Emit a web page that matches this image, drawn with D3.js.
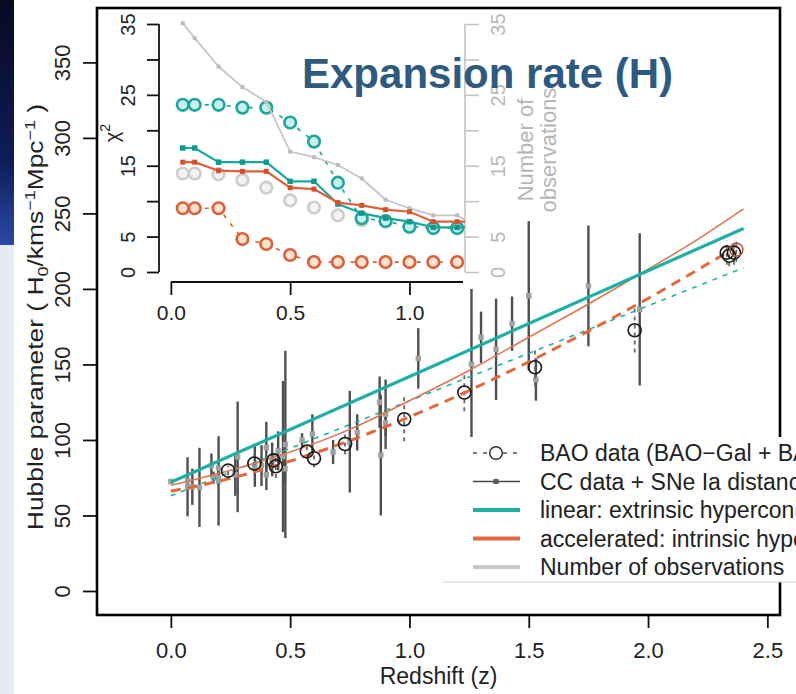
<!DOCTYPE html>
<html>
<head>
<meta charset="utf-8">
<script src="https://cdn.jsdelivr.net/npm/d3@7"></script>
<style>
  body { margin: 0; background: #ffffff; }
  svg { display: block; }
  text { font-family: "Liberation Sans", Arial, Helvetica, sans-serif; }
</style>
</head>
<body>
<svg id="chart" width="796" height="694"></svg>
<script>
// ---- Cosmic-chronometer + SNe Ia H(z) points: redshift, H, 1-sigma ----
const ccZ   = [0, 0.07, 0.09, 0.12, 0.17, 0.179, 0.199, 0.2, 0.27, 0.28, 0.352, 0.38, 0.4, 0.4004, 0.4247, 0.4497, 0.47, 0.4783, 0.48, 0.593, 0.68, 0.75, 0.781, 0.875, 0.88, 0.9, 1.037, 1.26, 1.3, 1.363, 1.43, 1.53, 1.75, 1.965,
               0.07, 0.2, 0.35, 0.55, 0.9, 1.5];
const ccH   = [72.5, 69, 69, 68.6, 83, 75, 75, 72.9, 77, 88.8, 83, 83, 95, 77, 87.1, 92.8, 89, 80.9, 97, 104, 92, 98.8, 105, 125, 90, 117, 154, 150, 168, 160, 177, 140, 202, 186.5,
               73.0, 81.4, 82.6, 99.9, 111.3, 195.5];
const ccErr = [1.7, 19.6, 12, 26.2, 8, 4, 5, 29.6, 14, 36.6, 14, 13.5, 17, 10.2, 11.2, 12.9, 50, 9, 62, 13, 8, 33.6, 12, 17, 40, 23, 20, 50, 17, 33.6, 18, 14, 40, 50.4,
               1.7, 1.5, 2.7, 4.6, 8.8, 49.4];

// ---- BAO points ----
const baoZ   = [0.24, 0.35, 0.43, 0.44, 0.57, 0.60, 0.73, 0.978, 1.23, 1.526, 1.944, 2.33, 2.34, 2.36, 2.37];
const baoH   = [79.69, 84.4, 86.45, 82.6, 92.4, 87.9, 97.3, 113.72, 131.44, 148.11, 172.63, 224, 222, 224, 226];
const baoErr = [2.99, 7, 3.68, 7.8, 4.5, 6.1, 7, 14.63, 12.42, 12.71, 14.79, 8, 7, 8, 8];

// ---- Model curves ----
const linearZ       = [0, 2.4];
const linearH       = [72, 240];
const linearFitH    = [63, 214];
const accelZ        = [0, 0.25, 0.5, 0.75, 1.0, 1.25, 1.5, 1.75, 2.0, 2.2, 2.4];
const accelH        = [70, 80, 92, 107, 126, 146, 168, 190, 213, 232, 253];
const accelFitZ     = [0, 0.25, 0.5, 0.75, 1.0, 1.25, 1.5, 1.75, 2.0, 2.2, 2.36];
const accelFitH     = [66, 74.6, 86, 99.6, 115.3, 132.7, 151.7, 172.1, 193.7, 211.9, 227];

// ---- Inset: chi-square and number of observations vs. redshift cut ----
const insetZ        = [0.05, 0.1, 0.2, 0.3, 0.4, 0.5, 0.6, 0.7, 0.8, 0.9, 1.0, 1.1, 1.2, 1.3];
const obsCount      = [35.1, 33.0, 29.0, 26.1, 24.0, 17.0, 16.2, 15.1, 13.2, 10.2, 9.0, 8.0, 8.0, 6.0];
const chiLinearCC   = [17.5, 17.5, 15.5, 15.5, 15.5, 12.8, 12.8, 9.6, 8.3, 7.6, 7.1, 6.3, 6.3, 6.3];
const chiAccelCC    = [15.5, 15.5, 14.3, 14.2, 14.2, 11.9, 11.7, 9.8, 9.4, 8.8, 8.5, 7.1, 7.1, 7.1];
const circZ         = [0.05, 0.1, 0.2, 0.3, 0.4, 0.5, 0.6, 0.7, 0.8, 0.9, 1.0, 1.1, 1.2];
const chiLinearBAO  = [23.6, 23.6, 23.6, 23.2, 23.2, 21.1, 18.4, 12.6, 7.6, 7.2, 6.4, 6.2, 6.2];
const chiAccelBAO   = [9.0, 9.0, 9.0, 4.65, 3.95, 2.4, 1.4, 1.4, 1.4, 1.4, 1.4, 1.4, 1.4];
const chiBAOOnly    = [13.9, 13.9, 13.8, 13.0, 11.9, 10.1, 9.1, 8.0, 7.3, 7.1, 6.4, 6.2, 6.2];

// ---- Tick values and labels ----
const hTicks      = [0, 50, 100, 150, 200, 250, 300, 350];
const zTicks      = [0, 0.5, 1.0, 1.5, 2.0, 2.5];
const chiTicks    = [0, 5, 10, 15, 20, 25, 30, 35];
const chiLabels   = [0, 5, 15, 25, 35];
const insetZTicks = [0, 0.5, 1.0];
const legendLabels = [
  "BAO data (BAO\u2212Gal + BAO\u2212Ly\u03b1)",
  "CC data + SNe Ia distances",
  "linear: extrinsic hyperconical model",
  "accelerated: intrinsic hyperconical model",
  "Number of observations"
];

const TEAL = "#1eb0a6", ORANGE = "#e4683c", ORANGE_THIN = "#e07654";

const svg = d3.select("#chart");
const defs = svg.append("defs");

// backdrop strip on the far left
const grad = defs.append("linearGradient").attr("id", "strip")
  .attr("x1", 0).attr("y1", 0).attr("x2", 0).attr("y2", 1);
grad.append("stop").attr("offset", "0%").attr("stop-color", "#060a22");
grad.append("stop").attr("offset", "65%").attr("stop-color", "#0e1c58");
grad.append("stop").attr("offset", "100%").attr("stop-color", "#2a4aa6");
svg.append("rect").attr("x", 0).attr("y", 0).attr("width", 14).attr("height", 245).attr("fill", "url(#strip)");
svg.append("rect").attr("x", 0).attr("y", 245).attr("width", 14).attr("height", 449).attr("fill", "#e7eaf3");

// ---- scales ----
const x  = d3.scaleLinear().domain([-0.3095, 2.553]).range([97, 780]);
const y  = d3.scaleLinear().domain([-15.9, 386]).range([615, 8]);
const yi = d3.scaleLinear().domain([0, 35]).range([272, 24]);

// ---- main axes ----
const gy = svg.append("g").attr("transform", "translate(97,0)")
  .call(d3.axisLeft(y).tickValues(hTicks).tickSize(14).tickFormat(d3.format("d")));
gy.select(".domain").remove();
gy.selectAll(".tick line").attr("stroke", "#111").attr("stroke-width", 1.8);
gy.selectAll(".tick text").attr("x", null).attr("dy", null)
  .attr("transform", "translate(-27,0) rotate(-90)")
  .attr("text-anchor", "middle").attr("font-size", 22).attr("fill", "#222");

const gx = svg.append("g").attr("transform", "translate(0,615)")
  .call(d3.axisBottom(x).tickValues(zTicks).tickSize(13).tickFormat(d3.format(".1f")));
gx.select(".domain").remove();
gx.selectAll(".tick line").attr("stroke", "#111").attr("stroke-width", 1.8);
gx.selectAll(".tick text").attr("dy", null).attr("y", 43).attr("font-size", 22).attr("fill", "#222");

svg.append("text").attr("x", 438.5).attr("y", 684).attr("text-anchor", "middle")
  .attr("font-size", 23).attr("fill", "#222").text("Redshift (z)");

const yt = svg.append("text").attr("transform", "translate(43,317) rotate(-90) scale(1.2,1)")
  .attr("text-anchor", "middle").attr("font-size", 22).attr("fill", "#222");
yt.append("tspan").text("Hubble parameter ( H");
yt.append("tspan").attr("font-size", 15).attr("dy", 5).text("0");
yt.append("tspan").attr("dy", -5).text("/kms");
yt.append("tspan").attr("font-size", 15).attr("dy", -8).text("\u22121");
yt.append("tspan").attr("dy", 8).text("Mpc");
yt.append("tspan").attr("font-size", 15).attr("dy", -8).text("\u22121");
yt.append("tspan").attr("dy", 8).text(" )");

// ---- main data ----
const cc  = ccZ.map((z, i) => ({ z, h: ccH[i], e: ccErr[i] }));
const bao = baoZ.map((z, i) => ({ z, h: baoH[i], e: baoErr[i] }));

svg.append("g").selectAll("line").data(cc).join("line")
  .attr("x1", d => x(d.z)).attr("x2", d => x(d.z))
  .attr("y1", d => y(d.h - d.e)).attr("y2", d => y(d.h + d.e))
  .attr("stroke", "#4f4f4f").attr("stroke-width", 2.4);

svg.append("g").selectAll("rect").data(cc).join("rect")
  .attr("x", d => x(d.z) - 2.7).attr("y", d => y(d.h) - 2.7)
  .attr("width", 5.4).attr("height", 5.4).attr("fill", "#9aa4a4");

svg.append("g").selectAll("line").data(bao).join("line")
  .attr("x1", d => x(d.z)).attr("x2", d => x(d.z))
  .attr("y1", d => y(d.h - d.e)).attr("y2", d => y(d.h + d.e))
  .attr("stroke", "#666").attr("stroke-width", 1.8).attr("stroke-dasharray", "4,4");

const lineGen = (zs, hs, curve) => d3.line().x(i => x(zs[i])).y(i => y(hs[i])).curve(curve)(d3.range(zs.length));

svg.append("path").attr("d", lineGen(linearZ, linearFitH, d3.curveLinear))
  .attr("fill", "none").attr("stroke", TEAL).attr("stroke-width", 1.6).attr("stroke-dasharray", "5,6");
svg.append("path").attr("d", lineGen(accelFitZ, accelFitH, d3.curveMonotoneX))
  .attr("fill", "none").attr("stroke", ORANGE).attr("stroke-width", 3).attr("stroke-dasharray", "10,7");
svg.append("path").attr("d", lineGen(accelZ, accelH, d3.curveMonotoneX))
  .attr("fill", "none").attr("stroke", ORANGE_THIN).attr("stroke-width", 1.6);
svg.append("path").attr("d", lineGen(linearZ, linearH, d3.curveLinear))
  .attr("fill", "none").attr("stroke", TEAL).attr("stroke-width", 3.2);

svg.append("g").selectAll("circle").data(bao).join("circle")
  .attr("cx", d => x(d.z)).attr("cy", d => y(d.h)).attr("r", 6.5)
  .attr("fill", "none").attr("stroke", (d, i) => i === bao.length - 1 ? "#b5573a" : "#1a1a1a")
  .attr("stroke-width", 1.6);

// ---- inset ----
defs.append("clipPath").attr("id", "insetClip").append("rect")
  .attr("x", 97).attr("y", 10).attr("width", 368).attr("height", 276);

// inset left axis (chi-square)
const giy = svg.append("g").attr("transform", "translate(159,0)")
  .call(d3.axisLeft(yi).tickValues(chiTicks).tickSize(12)
    .tickFormat(d => chiLabels.includes(d) ? d : ""));
giy.select(".domain").remove();
giy.selectAll(".tick line").attr("stroke", "#111").attr("stroke-width", 1.8);
giy.selectAll(".tick text").attr("x", null).attr("dy", null)
  .attr("transform", "translate(-24,0) rotate(-90)")
  .attr("text-anchor", "middle").attr("font-size", 20).attr("fill", "#222");
svg.append("line").attr("x1", 159).attr("x2", 159).attr("y1", yi(0)).attr("y2", yi(35))
  .attr("stroke", "#111").attr("stroke-width", 1.8);

// inset right axis (number of observations)
const giyr = svg.append("g").attr("transform", "translate(465,0)")
  .call(d3.axisRight(yi).tickValues(chiTicks).tickSize(14)
    .tickFormat(d => chiLabels.includes(d) ? d : ""));
giyr.select(".domain").remove();
giyr.selectAll(".tick line").attr("stroke", "#c4c4c4").attr("stroke-width", 1.6);
giyr.selectAll(".tick text").attr("x", null).attr("dy", null)
  .attr("transform", "translate(40,0) rotate(-90)")
  .attr("text-anchor", "middle").attr("font-size", 20).attr("fill", "#b8b8b8");
svg.append("line").attr("x1", 465).attr("x2", 465).attr("y1", yi(0)).attr("y2", yi(35))
  .attr("stroke", "#c4c4c4").attr("stroke-width", 1.6);

// inset bottom axis
const gix = svg.append("g").attr("transform", "translate(0,282)")
  .call(d3.axisBottom(x).tickValues(insetZTicks).tickSize(13).tickFormat(d3.format(".1f")));
gix.select(".domain").remove();
gix.selectAll(".tick line").attr("stroke", "#111").attr("stroke-width", 1.8);
gix.selectAll(".tick text").attr("dy", null).attr("y", 38).attr("font-size", 21).attr("fill", "#222");
svg.append("line").attr("x1", x(0)).attr("x2", 463).attr("y1", 282).attr("y2", 282)
  .attr("stroke", "#111").attr("stroke-width", 1.8);

const chiT = svg.append("text").attr("transform", "translate(119,133) rotate(-90)")
  .attr("text-anchor", "middle").attr("font-size", 20).attr("fill", "#222");
chiT.append("tspan").text("\u03c7");
chiT.append("tspan").attr("font-size", 14).attr("dy", -9).text("2");

svg.append("text").attr("transform", "translate(533,150) rotate(-90)")
  .attr("text-anchor", "middle").attr("font-size", 22).attr("fill", "#b5b5b5").text("Number of");
svg.append("text").attr("transform", "translate(556,150) rotate(-90)")
  .attr("text-anchor", "middle").attr("font-size", 22).attr("fill", "#b5b5b5").text("observations");

const gi = svg.append("g").attr("clip-path", "url(#insetClip)");
const insetLine = (zs, vs) => d3.line().x(i => x(zs[i])).y(i => yi(vs[i]))(d3.range(zs.length));

// dashed connectors behind the BAO chi-square circles
gi.append("path").attr("d", insetLine(circZ, chiAccelBAO))
  .attr("fill", "none").attr("stroke", "#d9603a").attr("stroke-width", 1.7).attr("stroke-dasharray", "4,7");
gi.append("path").attr("d", insetLine(circZ, chiLinearBAO))
  .attr("fill", "none").attr("stroke", "#1ea69c").attr("stroke-width", 1.7).attr("stroke-dasharray", "4,7");

const circleSet = (vals, stroke, fill) => {
  gi.append("g").selectAll("circle").data(circZ).join("circle")
    .attr("cx", z => x(z)).attr("cy", (z, i) => yi(vals[i])).attr("r", 5.8)
    .attr("fill", fill).attr("stroke", stroke).attr("stroke-width", 2.6);
};
circleSet(chiBAOOnly, "#cdcdcd", "#f3f3f3");
circleSet(chiAccelBAO, "#d9603a", "#fde3cb");
circleSet(chiLinearBAO, "#1ea69c", "#c8f1ed");

const markedLine = (vals, stroke, width, mark, size) => {
  gi.append("path").attr("d", insetLine(insetZ, vals))
    .attr("fill", "none").attr("stroke", stroke).attr("stroke-width", width);
  gi.append("g").selectAll("rect").data(insetZ).join("rect")
    .attr("x", z => x(z) - size / 2).attr("y", (z, i) => yi(vals[i]) - size / 2)
    .attr("width", size).attr("height", size).attr("fill", mark);
};
markedLine(obsCount, "#c6c6c6", 1.8, "#bdbdbd", 4);
markedLine(chiLinearCC, "#1aa89e", 2.2, "#12998f", 5.5);
markedLine(chiAccelCC, "#e0603a", 2.2, "#d6502b", 5);

// ---- plot frame ----
svg.append("rect").attr("x", 97).attr("y", 8).attr("width", 683).attr("height", 607)
  .attr("fill", "none").attr("stroke", "#000").attr("stroke-width", 2.6);

// ---- legend (runs past the right edge of the page) ----
const lg = svg.append("g");
lg.append("rect").attr("x", 443).attr("y", 437).attr("width", 353).attr("height", 145).attr("fill", "#ffffff");
lg.append("line").attr("x1", 443).attr("x2", 796).attr("y1", 582).attr("y2", 582)
  .attr("stroke", "#d0d0d0").attr("stroke-width", 1.2);
const rowY = i => 453 + i * 28.5;
lg.selectAll("text").data(legendLabels).join("text")
  .attr("x", 540).attr("y", (d, i) => rowY(i) + 8)
  .attr("font-size", 23).attr("fill", "#222").text(d => d);
lg.append("line").attr("x1", 473).attr("x2", 520).attr("y1", rowY(0)).attr("y2", rowY(0))
  .attr("stroke", "#555").attr("stroke-width", 1.4).attr("stroke-dasharray", "4,6");
lg.append("circle").attr("cx", 496).attr("cy", rowY(0)).attr("r", 6.3)
  .attr("fill", "#fff").attr("stroke", "#333").attr("stroke-width", 1.5);
lg.append("line").attr("x1", 473).attr("x2", 520).attr("y1", rowY(1)).attr("y2", rowY(1))
  .attr("stroke", "#444").attr("stroke-width", 1.6);
lg.append("rect").attr("x", 493.5).attr("y", rowY(1) - 2.5).attr("width", 5).attr("height", 5).attr("fill", "#555");
[TEAL, "#e06a45", "#c8c8c8"].forEach((c, k) => {
  lg.append("line").attr("x1", 473).attr("x2", 520).attr("y1", rowY(k + 2)).attr("y2", rowY(k + 2))
    .attr("stroke", c).attr("stroke-width", 4.2);
});

// ---- title ----
svg.append("text").attr("x", 302).attr("y", 88)
  .attr("font-size", 42).attr("font-weight", "bold").attr("fill", "#2f5a80")
  .text("Expansion rate (H)");
</script>
</body>
</html>
